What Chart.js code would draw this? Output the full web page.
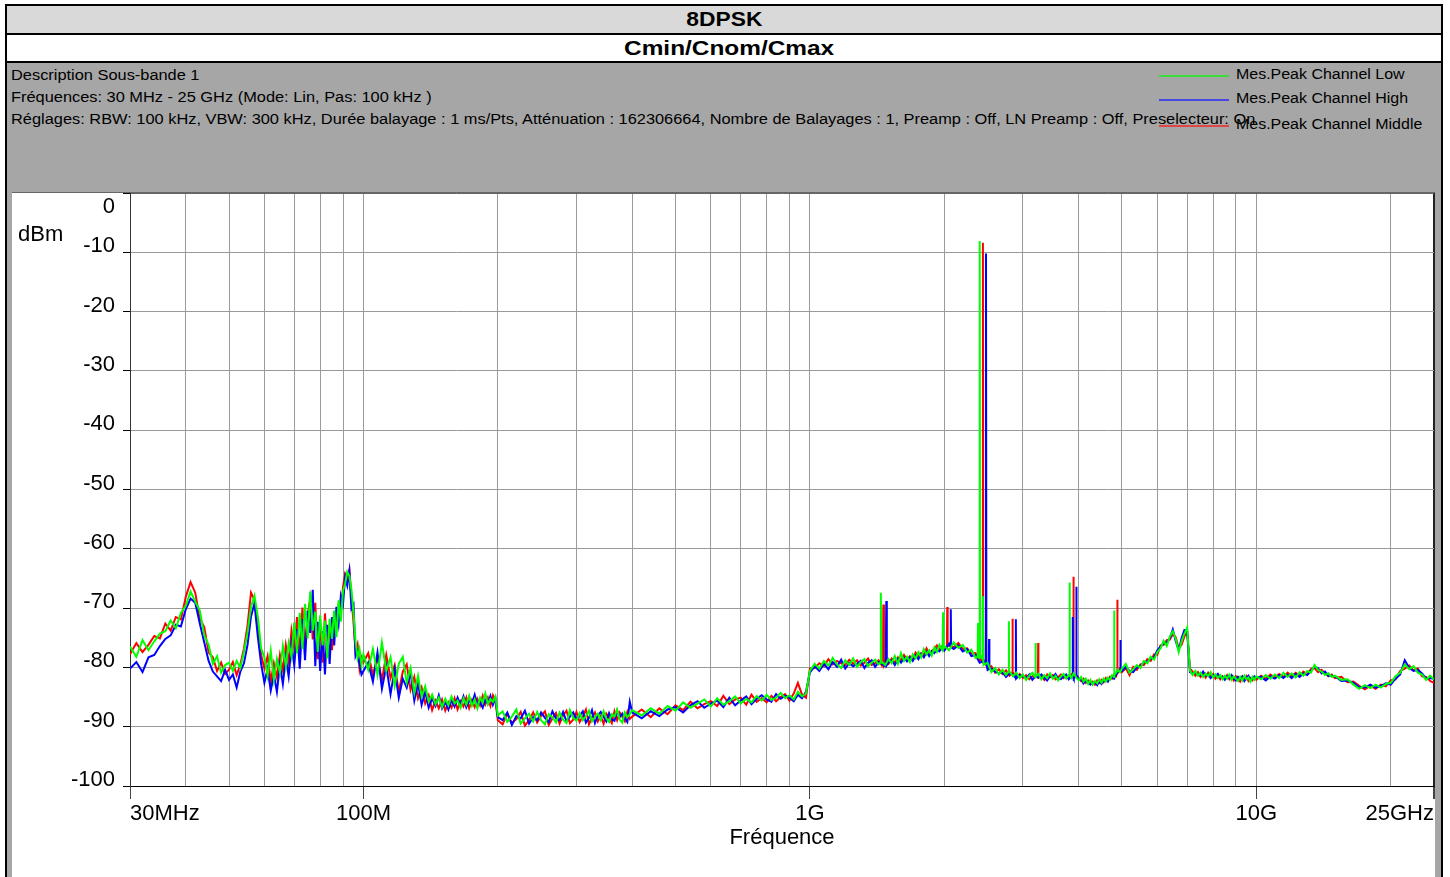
<!DOCTYPE html>
<html>
<head>
<meta charset="utf-8">
<script src="https://cdn.jsdelivr.net/npm/chart.js@4.4.1/dist/chart.umd.min.js"></script>
<style>
html,body{margin:0;padding:0;background:#fff;width:1450px;height:877px;overflow:hidden;font-family:'Liberation Sans',Arial,sans-serif;color:#000;}
#frame{position:absolute;left:5px;top:4px;width:1438px;height:900px;box-sizing:border-box;border:2px solid #000;background:#a6a6a6;}
#t1{position:absolute;left:7px;top:6px;width:1434px;height:27px;background:#d9d9d9;border-bottom:2px solid #000;}
#t2{position:absolute;left:7px;top:35px;width:1434px;height:26px;background:#fff;border-bottom:2px solid #000;}
.ttl{position:absolute;left:0;right:0;top:0;text-align:center;font-weight:bold;font-size:20px;}
.ttl span{display:inline-block;transform:scaleX(1.14);}
.hd{position:absolute;font-size:14px;line-height:15px;white-space:nowrap;transform:scaleX(1.17);transform-origin:0 0;}
.lg{position:absolute;left:1159px;width:70px;height:2px;}
#panel{position:absolute;left:12px;top:192px;width:1423px;height:684px;background:#fff;border-top:1px solid #666;}
#panel canvas{position:absolute;left:0;top:0;}
#dbm{position:absolute;left:18px;top:223px;font-size:22px;line-height:22px;}
#err{position:absolute;left:300px;top:300px;color:red;font-size:20px;}
</style>
</head>
<body>
<div id="frame"></div>
<div id="t1"><div class="ttl" style="line-height:27px"><span>8DPSK</span></div></div>
<div id="t2"><div class="ttl" style="line-height:26px;left:10px"><span style="transform:scaleX(1.22)">Cmin/Cnom/Cmax</span></div></div>
<div class="hd" style="left:11px;top:68px">Description Sous-bande 1</div>
<div class="hd" style="left:11px;top:90px">Fréquences: 30 MHz - 25 GHz (Mode: Lin, Pas: 100 kHz )</div>
<div class="hd" style="left:11px;top:112px">Réglages: RBW: 100 kHz, VBW: 300 kHz, Durée balayage : 1 ms/Pts, Atténuation : 162306664, Nombre de Balayages : 1, Preamp : Off, LN Preamp : Off, Preselecteur: On</div>
<div class="lg" style="top:75px;background:#3ddc3d"></div>
<div class="lg" style="top:99px;background:#4646e0"></div>
<div class="lg" style="top:125px;background:#e04646"></div>
<div class="hd" style="left:1236px;top:67px;transform:scaleX(1.14)">Mes.Peak Channel Low</div>
<div class="hd" style="left:1236px;top:91px;transform:scaleX(1.14)">Mes.Peak Channel High</div>
<div class="hd" style="left:1236px;top:117px;transform:scaleX(1.14)">Mes.Peak Channel Middle</div>
<div id="panel"><canvas id="c" width="1423" height="684" style="width:1423px;height:684px"></canvas></div>
<div id="dbm">dBm</div>
<div id="err"></div>
<script>
// ---- frequency grid (MHz) ----
const freqMHz = [
30,31,32,33,34,35,36,37,38,39,40,41,42,43,44,45,46,47,48,49,
50,51,52,53,54,55,56,57,58,59,60,61,62,63,64,65,66,67,68,69,70,71,72,73,74,75,76,77,78,79,80,81,82,83,84,85,86,87,88,89,90,91,92,93,94,95,96,97,98,99,
100,102.5,105,107.5,110,112.5,115,117.5,120,122.5,125,127.5,130,132.5,135,137.5,140,142.5,145,147.5,150,152.5,155,157.5,160,162.5,165,167.5,170,172.5,175,177.5,180,182.5,185,187.5,190,192.5,195,197.5,
200,205,210,215,220,225,230,235,240,245,250,255,260,265,270,275,280,285,290,295,300,305,310,315,320,325,330,335,340,345,350,355,360,365,370,375,380,385,390,395,
400,420,440,460,480,500,520,540,560,580,600,620,640,660,680,700,720,740,760,780,800,820,840,860,880,900,920,940,960,980,
1000,1025,1050,1075,1100,1125,1150,1175,1200,1225,1250,1275,1300,1325,1350,1375,1400,1425,1450,1475,1500,1525,1550,1575,1600,1625,1650,1675,1700,1725,1750,1775,1800,1825,1850,1875,1900,1925,1950,1975,
2000,2050,2100,2150,2200,2250,2300,2350,2400,2450,2500,2550,2600,2650,2700,2750,2800,2850,2900,2950,3000,3050,3100,3150,3200,3250,3300,3350,3400,3450,3500,3550,3600,3650,3700,3750,3800,3850,3900,3950,4000,4050,4100,4150,4200,4250,4300,4350,4400,4450,4500,4550,4600,4650,4700,4750,4800,4850,4900,4950,
5000,5100,5200,5300,5400,5500,5600,5700,5800,5900,6000,6100,6200,6300,6400,6500,6600,6700,6800,6900,7000,7100,7200,7300,7400,7500,7600,7700,7800,7900,8000,8100,8200,8300,8400,8500,8600,8700,8800,8900,9000,9100,9200,9300,9400,9500,9600,9700,9800,9900,
10000,10250,10500,10750,11000,11250,11500,11750,12000,12250,12500,12750,13000,13250,13500,13750,14000,14250,14500,14750,
15000,15500,16000,16500,17000,17500,18000,18500,19000,19500,20000,20500,21000,21500,22000,22500,23000,23500,24000,24500,25000
];

// ---- Mes.Peak Channel Low (green), dBm ----
const lowDbm = [
-76.5,-78.2,-75.4,-77.1,-75.6,-74.3,-73.9,-72.1,-73.4,-70.8,-69.6,-67.2,-68.9,-70.4,-74.6,-76.2,-79.4,-78.1,-80.9,-79.6,
-79.2,-80.6,-78.9,-80.1,-77.4,-74.1,-69.8,-67.9,-71.5,-76.8,-78.3,-81.4,-77.2,-82.1,-78.6,-80.9,-76.4,-79.8,-75.9,-78.2,-72.4,-77.6,-70.8,-76.9,-69.3,-75.1,-67.2,-73.8,-70.6,-77.4,-71.2,-76.3,-72.1,-78.5,-71.8,-75.2,-70.4,-74.9,-68.7,-72.3,-67.1,-65.8,-63.9,-64.6,-66.9,-70.8,-75.6,-78.4,-76.9,-79.6,
-77.8,-80.4,-76.9,-81.2,-75.8,-80.6,-78.3,-83.1,-79.4,-78.2,-82.6,-80.1,-84.3,-81.4,-84.9,-83.2,-85.8,-84.6,-86.2,-85.1,-86.7,-85.3,-86.4,-84.9,-86.1,-85.6,-86.8,-85.2,-86.3,-84.8,-86.5,-85.4,-86.9,-85.1,-85.9,-84.4,-86.2,-85.3,-85.8,-84.9,
-88.1,-87.4,-89.2,-88.3,-87.1,-89.5,-88.6,-87.8,-89.1,-87.5,-88.9,-89.6,-87.9,-88.4,-89.3,-87.6,-88.8,-89.4,-87.2,-88.5,-89.0,-87.7,-88.9,-88.2,-87.3,-89.1,-88.4,-87.8,-88.9,-87.4,-88.6,-89.2,-87.9,-88.3,-87.1,-88.8,-89.3,-87.6,-88.4,-87.9,
-87.2,-88.1,-86.9,-87.8,-86.5,-87.3,-85.9,-86.8,-86.1,-85.4,-86.6,-85.2,-86.3,-85.7,-84.9,-86.1,-85.3,-85.9,-84.8,-85.6,-84.6,-85.5,-85.1,-84.3,-85.2,-84.7,-85.4,-84.1,-84.9,-84.4,
-80.6,-79.4,-80.2,-78.9,-79.7,-78.4,-79.5,-80.1,-78.8,-79.6,-78.5,-79.9,-79.1,-78.6,-79.8,-79.2,-78.7,-79.5,-79.0,-79.6,-78.6,-79.3,-78.1,-79.4,-77.6,-78.9,-78.2,-79.1,-77.8,-78.5,-77.4,-78.3,-76.9,-77.8,-77.1,-78.0,-76.6,-77.4,-76.2,-77.0,
-76.4,-77.1,-75.8,-76.7,-76.2,-77.5,-77.0,-78.4,-78.1,-79.6,-79.2,-80.8,-80.1,-81.2,-80.4,-81.3,-80.6,-81.5,-80.9,-81.8,-81.2,-82.1,-81.4,-80.9,-81.7,-81.1,-82.0,-81.3,-81.8,-81.0,-81.9,-81.4,-82.2,-81.5,-81.1,-81.9,-81.3,-81.8,-81.0,-81.7,-82.2,-81.6,-82.4,-81.9,-82.8,-82.1,-82.9,-82.3,-82.7,-82.0,-82.6,-81.9,-82.4,-81.7,-82.1,-81.3,-81.6,-80.9,-80.4,-80.8,
-80.2,-79.4,-80.9,-80.3,-79.6,-80.1,-78.9,-79.3,-78.2,-78.7,-77.4,-76.8,-75.5,-76.4,-74.8,-73.9,-75.2,-77.4,-75.6,-74.3,-73.3,-80.5,-81.3,-80.6,-81.4,-80.9,-81.6,-81.0,-81.5,-80.8,-81.7,-81.2,-81.8,-81.3,-82.0,-81.4,-81.9,-81.2,-82.1,-81.5,-81.9,-82.3,-81.6,-82.2,-81.4,-82.0,-81.7,-82.4,-81.6,-82.1,
-81.5,-82.0,-81.3,-81.9,-81.2,-81.8,-80.9,-81.6,-81.0,-81.7,-80.8,-81.4,-80.6,-80.9,-79.6,-80.4,-80.7,-81.3,-81.0,-81.6,
-81.4,-82.1,-82.0,-82.9,-83.6,-83.0,-83.5,-82.9,-83.4,-82.8,-82.6,-81.5,-80.9,-79.5,-80.3,-79.8,-80.9,-81.2,-82.1,-81.4,-82.0
];

// ---- Mes.Peak Channel High (blue), dBm ----
const highDbm = [
-80.2,-79.1,-80.8,-78.3,-77.9,-76.4,-75.2,-74.6,-72.8,-73.1,-70.2,-68.4,-69.1,-72.6,-75.8,-78.9,-80.7,-81.5,-82.3,-80.4,
-82.1,-81.2,-83.4,-80.7,-79.3,-76.2,-71.4,-69.2,-74.8,-79.4,-82.6,-80.3,-83.9,-81.2,-84.1,-79.6,-82.8,-78.4,-81.5,-76.1,-79.7,-73.6,-80.2,-71.9,-78.8,-70.5,-74.2,-66.9,-79.8,-72.3,-80.6,-73.9,-81.2,-72.8,-79.4,-71.5,-76.3,-69.8,-72.6,-67.9,-69.3,-64.8,-66.2,-63.8,-70.1,-69.4,-78.1,-77.3,-79.4,-81.2,
-80.6,-79.2,-82.4,-77.5,-83.6,-79.8,-84.5,-80.3,-85.1,-81.9,-83.4,-80.8,-85.6,-82.7,-86.3,-84.1,-86.8,-85.2,-86.5,-84.7,-86.9,-85.8,-87.1,-85.5,-86.6,-85.1,-86.3,-84.9,-86.7,-85.6,-86.1,-84.6,-86.4,-85.9,-86.8,-85.5,-86.1,-84.8,-86.3,-85.2,
-88.4,-88.9,-87.6,-89.7,-88.2,-88.6,-87.3,-89.5,-88.4,-88.9,-87.6,-88.5,-89.2,-87.4,-88.6,-88.9,-87.5,-89.1,-88.3,-87.6,-88.7,-88.2,-87.4,-89.3,-88.5,-87.2,-89.4,-88.1,-87.5,-88.3,-89.1,-87.7,-88.8,-89.0,-87.3,-88.4,-87.8,-88.6,-89.2,-85.8,
-87.6,-88.6,-87.4,-88.2,-87.1,-86.7,-87.6,-86.4,-85.7,-86.8,-86.1,-85.6,-86.7,-85.1,-86.4,-85.6,-84.9,-86.2,-85.3,-84.7,-85.4,-85.8,-84.5,-85.3,-84.8,-85.1,-85.7,-84.6,-85.2,-84.1,
-80.9,-79.8,-80.6,-79.4,-80.3,-79.1,-79.9,-78.7,-80.2,-79.3,-79.8,-79.4,-78.9,-80.1,-79.2,-78.8,-79.9,-79.1,-79.4,-79.8,-79.1,-78.8,-79.6,-78.6,-79.2,-78.4,-79.0,-78.3,-78.9,-78.0,-78.6,-77.7,-78.3,-77.4,-78.1,-77.3,-77.6,-76.9,-77.3,-76.8,
-77.2,-76.0,-76.9,-76.3,-77.3,-76.9,-78.1,-77.9,-79.2,-79.0,-80.4,-80.2,-80.7,-81.0,-80.8,-81.6,-81.0,-81.2,-81.9,-81.3,-81.5,-81.8,-81.2,-82.1,-81.5,-81.7,-81.2,-81.8,-82.2,-81.4,-81.7,-81.1,-81.9,-82.0,-81.5,-81.2,-82.0,-81.5,-81.9,-81.4,-81.9,-82.0,-82.7,-82.2,-82.5,-82.9,-82.6,-82.5,-83.0,-82.3,-82.8,-82.2,-82.1,-82.4,-81.8,-81.6,-81.9,-81.2,-80.7,-80.5,
-80.6,-79.9,-80.6,-80.8,-80.0,-79.8,-79.1,-79.0,-78.5,-78.3,-77.1,-76.5,-75.9,-75.8,-75.1,-73.6,-75.6,-77.1,-75.1,-73.7,-73.9,-80.8,-81.0,-80.9,-81.2,-81.3,-80.7,-81.4,-81.2,-81.8,-81.3,-81.5,-81.1,-81.7,-81.6,-82.1,-81.5,-81.8,-81.3,-81.9,-82.2,-81.6,-81.9,-81.5,-82.3,-81.8,-81.4,-82.0,-81.9,-81.5,
-81.7,-81.6,-82.2,-81.5,-81.9,-81.3,-81.8,-81.2,-81.8,-81.1,-81.6,-81.0,-81.3,-80.6,-79.9,-80.1,-81.0,-80.7,-81.4,-81.4,
-81.5,-82.3,-82.2,-82.6,-83.3,-83.4,-82.9,-83.4,-83.1,-82.7,-82.9,-81.9,-81.2,-78.8,-80.1,-80.6,-80.4,-81.0,-81.9,-81.8,-81.9
];

// ---- Mes.Peak Channel Middle (red), dBm ----
const midDbm = [
-77.8,-75.9,-77.4,-76.2,-74.7,-75.1,-72.6,-73.8,-71.5,-71.9,-68.1,-65.6,-67.4,-71.8,-73.2,-77.5,-78.3,-80.6,-79.2,-81.1,
-80.4,-79.1,-81.3,-79.5,-76.8,-72.9,-67.4,-68.6,-73.2,-77.9,-80.2,-78.1,-82.4,-79.3,-81.7,-77.9,-80.5,-76.2,-79.1,-73.8,-76.9,-71.5,-77.8,-69.9,-76.4,-71.2,-68.4,-75.3,-69.1,-78.6,-72.7,-79.2,-70.9,-76.8,-73.4,-77.1,-71.6,-73.2,-69.5,-70.8,-66.4,-64.2,-64.9,-63.5,-68.1,-72.4,-77.2,-76.1,-80.2,-78.3,
-79.1,-77.6,-81.3,-78.4,-82.1,-77.9,-81.8,-79.6,-84.2,-80.7,-79.5,-83.8,-81.6,-85.2,-83.4,-86.1,-84.7,-87.2,-85.6,-86.9,-85.4,-87.3,-85.9,-86.8,-85.2,-87.1,-85.7,-86.6,-85.1,-86.9,-85.5,-86.7,-85.3,-86.4,-84.8,-86.2,-85.1,-86.5,-84.7,-85.6,
-88.9,-89.6,-87.8,-89.4,-88.7,-87.5,-89.8,-88.9,-87.6,-89.3,-88.2,-87.4,-89.7,-88.6,-87.7,-89.5,-88.1,-87.3,-89.4,-88.8,-87.5,-89.2,-88.3,-87.1,-89.6,-88.4,-87.6,-89.1,-88.2,-89.5,-87.8,-88.5,-89.4,-87.4,-88.9,-87.6,-88.3,-89.1,-87.5,-88.7,
-88.3,-87.1,-88.4,-86.9,-87.9,-86.4,-87.2,-85.8,-86.9,-86.2,-85.7,-86.5,-84.8,-86.2,-85.4,-85.1,-86.3,-84.6,-85.8,-85.2,-85.9,-84.8,-85.7,-85.0,-84.5,-85.6,-84.4,-82.6,-84.6,-85.1,
-80.2,-80.1,-79.3,-79.8,-78.6,-79.5,-78.9,-79.3,-79.6,-78.7,-79.4,-78.8,-79.7,-79.2,-78.5,-79.6,-79.3,-78.8,-79.7,-78.9,-79.4,-78.5,-79.2,-78.3,-78.8,-77.9,-78.7,-78.1,-78.6,-77.5,-78.2,-77.6,-77.9,-76.8,-77.6,-77.2,-76.9,-76.3,-77.1,-76.5,
-76.9,-76.3,-76.6,-75.9,-76.9,-76.8,-77.7,-77.6,-78.9,-78.7,-80.1,-79.8,-80.9,-80.3,-81.1,-80.5,-81.4,-80.8,-81.6,-81.1,-81.8,-81.3,-82.0,-81.5,-81.2,-81.9,-81.4,-82.1,-81.2,-81.7,-81.3,-82.0,-81.6,-81.2,-81.8,-81.4,-81.9,-81.2,-81.6,-81.3,-81.8,-82.3,-81.9,-82.6,-82.2,-82.7,-82.4,-82.9,-82.2,-82.6,-82.1,-82.5,-81.8,-82.2,-81.6,-81.9,-81.2,-81.5,-80.8,-80.2,
-80.8,-80.1,-81.3,-79.9,-80.4,-79.5,-79.6,-78.6,-78.9,-77.8,-77.9,-76.3,-76.2,-75.4,-75.3,-74.4,-74.9,-76.8,-76.2,-74.8,-74.1,-80.2,-80.7,-81.4,-80.8,-81.6,-81.1,-81.7,-80.9,-81.5,-81.1,-81.9,-81.4,-82.0,-81.5,-81.9,-81.3,-82.0,-81.6,-82.2,-81.5,-81.9,-82.4,-81.7,-82.1,-81.5,-82.3,-81.8,-82.2,-81.7,
-82.1,-81.4,-81.9,-81.2,-81.7,-81.1,-81.6,-80.9,-81.5,-80.9,-81.4,-80.7,-81.2,-80.3,-80.1,-80.8,-80.4,-81.0,-81.5,-81.2,
-81.8,-81.6,-82.5,-82.4,-83.1,-83.7,-83.1,-83.6,-82.9,-83.2,-82.2,-82.0,-80.6,-80.2,-79.7,-80.5,-80.2,-81.5,-81.6,-82.3,-82.6
];

// ---- narrow emission peaks per series (MHz / dBm, foot-peak-foot) ----
const lowSpikeMHz  = [1438,1442,1446, 1983,1987,1991, 2376,2380,2384, 2397,2402,2407, 2437,2441,2445, 2787,2791,2795, 3200,3204,3208, 3810,3816,3822, 4798,4804,4810];
const lowSpikeDbm  = [-79.2,-67.4,-79.0, -77.0,-70.7,-76.8, -78.2,-72.5,-78.3, -78.4,-8.1,-77.8, -78.6,-68.0,-79.0, -80.7,-72.2,-80.6, -81.6,-75.9,-81.5, -81.4,-65.7,-81.2, -81.5,-70.4,-81.3];
const highSpikeMHz = [1479,1483,1487, 2064,2068,2072, 2437,2441,2445, 2475,2480,2485, 2516,2520,2524, 2889,2893,2897, 3874,3880,3886, 3948,3954,3960, 4954,4960,4966];
const highSpikeDbm = [-78.9,-68.8,-79.6, -76.4,-70.2,-76.6, -79.0,-72.0,-79.1, -79.0,-10.2,-79.3, -80.2,-75.2,-80.3, -81.8,-71.9,-81.9, -81.5,-71.5,-81.6, -81.4,-66.4,-81.3, -80.6,-75.4,-80.5];
const midSpikeMHz  = [1457,1461,1465, 2027,2031,2035, 2398,2402,2406, 2436,2441,2446, 2837,2841,2845, 3242,3246,3250, 3885,3891,3897, 4876,4882,4888];
const midSpikeDbm  = [-79.3,-69.4,-79.5, -76.6,-69.8,-76.4, -78.6,-73.0,-78.7, -78.8,-8.4,-79.2, -80.9,-71.8,-81.0, -81.4,-75.9,-81.6, -81.6,-64.7,-81.4, -81.0,-68.6,-80.9];

// ---- axes ----
const xGridMHz = [30,40,50,60,70,80,90,100,200,300,400,500,600,700,800,900,1000,2000,3000,4000,5000,6000,7000,8000,9000,10000,20000,25000];
const xLabelMHz = [30,100,1000,10000,25000];
const xLabelText = ['30MHz','100M','1G','10G','25GHz'];
const yMin = -100, yMax = 0, yStep = 10;

const seriesNames = ['Mes.Peak Channel Low','Mes.Peak Channel High','Mes.Peak Channel Middle'];
const seriesColors = ['#00ff00','#0000ff','#ff0000'];

function buildSeries(vals, spF, spV) {
  const pts = freqMHz.map((f, i) => ({x: f, y: vals[i]}));
  spF.forEach((f, i) => pts.push({x: f, y: spV[i]}));
  pts.sort((a, b) => a.x - b.x);
  return pts;
}

const errs = [];
[['low', lowDbm], ['high', highDbm], ['mid', midDbm]].forEach(([n, a]) => {
  if (a.length !== freqMHz.length) errs.push(n + ' ' + a.length + ' vs ' + freqMHz.length);
});
if (errs.length) document.getElementById('err').textContent = errs.join('; ');

Chart.defaults.font.family = "'Liberation Sans', Arial, sans-serif";
Chart.defaults.color = '#000';

new Chart(document.getElementById('c'), {
  type: 'line',
  data: {
    datasets: [
      {label: seriesNames[0], data: buildSeries(lowDbm, lowSpikeMHz, lowSpikeDbm), borderColor: seriesColors[0]},
      {label: seriesNames[1], data: buildSeries(highDbm, highSpikeMHz, highSpikeDbm), borderColor: seriesColors[1]},
      {label: seriesNames[2], data: buildSeries(midDbm, midSpikeMHz, midSpikeDbm), borderColor: seriesColors[2]}
    ]
  },
  options: {
    responsive: false,
    animation: false,
    devicePixelRatio: 1,
    layout: {padding: {top: 0, right: 1, bottom: 0, left: 0}},
    plugins: {legend: {display: false}, tooltip: {enabled: false}},
    elements: {point: {radius: 0}, line: {borderWidth: 2, tension: 0, fill: false}},
    scales: {
      x: {
        type: 'logarithmic', min: 30, max: 25000, position: 'bottom',
        afterBuildTicks: s => { s.ticks = xGridMHz.map(v => ({value: v})); },
        afterFit: s => { s.height = 91; s.paddingLeft = 0; s.paddingRight = 0; },
        ticks: {
          autoSkip: false, maxRotation: 0, minRotation: 0, align: 'inner', padding: 2,
          font: {size: 22}, color: '#000',
          callback: v => { const i = xLabelMHz.indexOf(v); return i >= 0 ? xLabelText[i] : ''; }
        },
        grid: {
          color: c => (c.tick && c.tick.value === 25000) ? '#222' : (c.tick && c.tick.value === 30 ? '#333' : '#9a9a9a'),
          lineWidth: c => (c.tick && c.tick.value === 25000) ? 2 : 1,
          tickColor: c => (c.tick && xLabelMHz.indexOf(c.tick.value) >= 0) ? '#444' : 'rgba(0,0,0,0)',
          tickLength: 13
        },
        border: {color: '#000', width: 1},
        title: {display: true, text: 'Fréquence', font: {size: 22}, color: '#000', padding: {top: 0, bottom: 26}}
      },
      y: {
        type: 'linear', min: yMin, max: yMax,
        afterFit: s => { s.width = 118; s.paddingTop = 0; s.paddingBottom = 0; },
        ticks: {
          stepSize: yStep, autoSkip: false, padding: 8, labelOffset: -6, color: '#000',
          font: {size: 22, lineHeight: 0.9},
          callback: v => v === 0 ? ['', '', '0'] : String(v)
        },
        grid: {
          color: c => (c.tick && c.tick.value === -100) ? '#000' : (c.tick && c.tick.value === 0 ? '#666' : '#9a9a9a'),
          tickColor: '#000', tickLength: 7
        },
        border: {color: '#333', width: 1}
      }
    }
  }
});
</script>
</body>
</html>
